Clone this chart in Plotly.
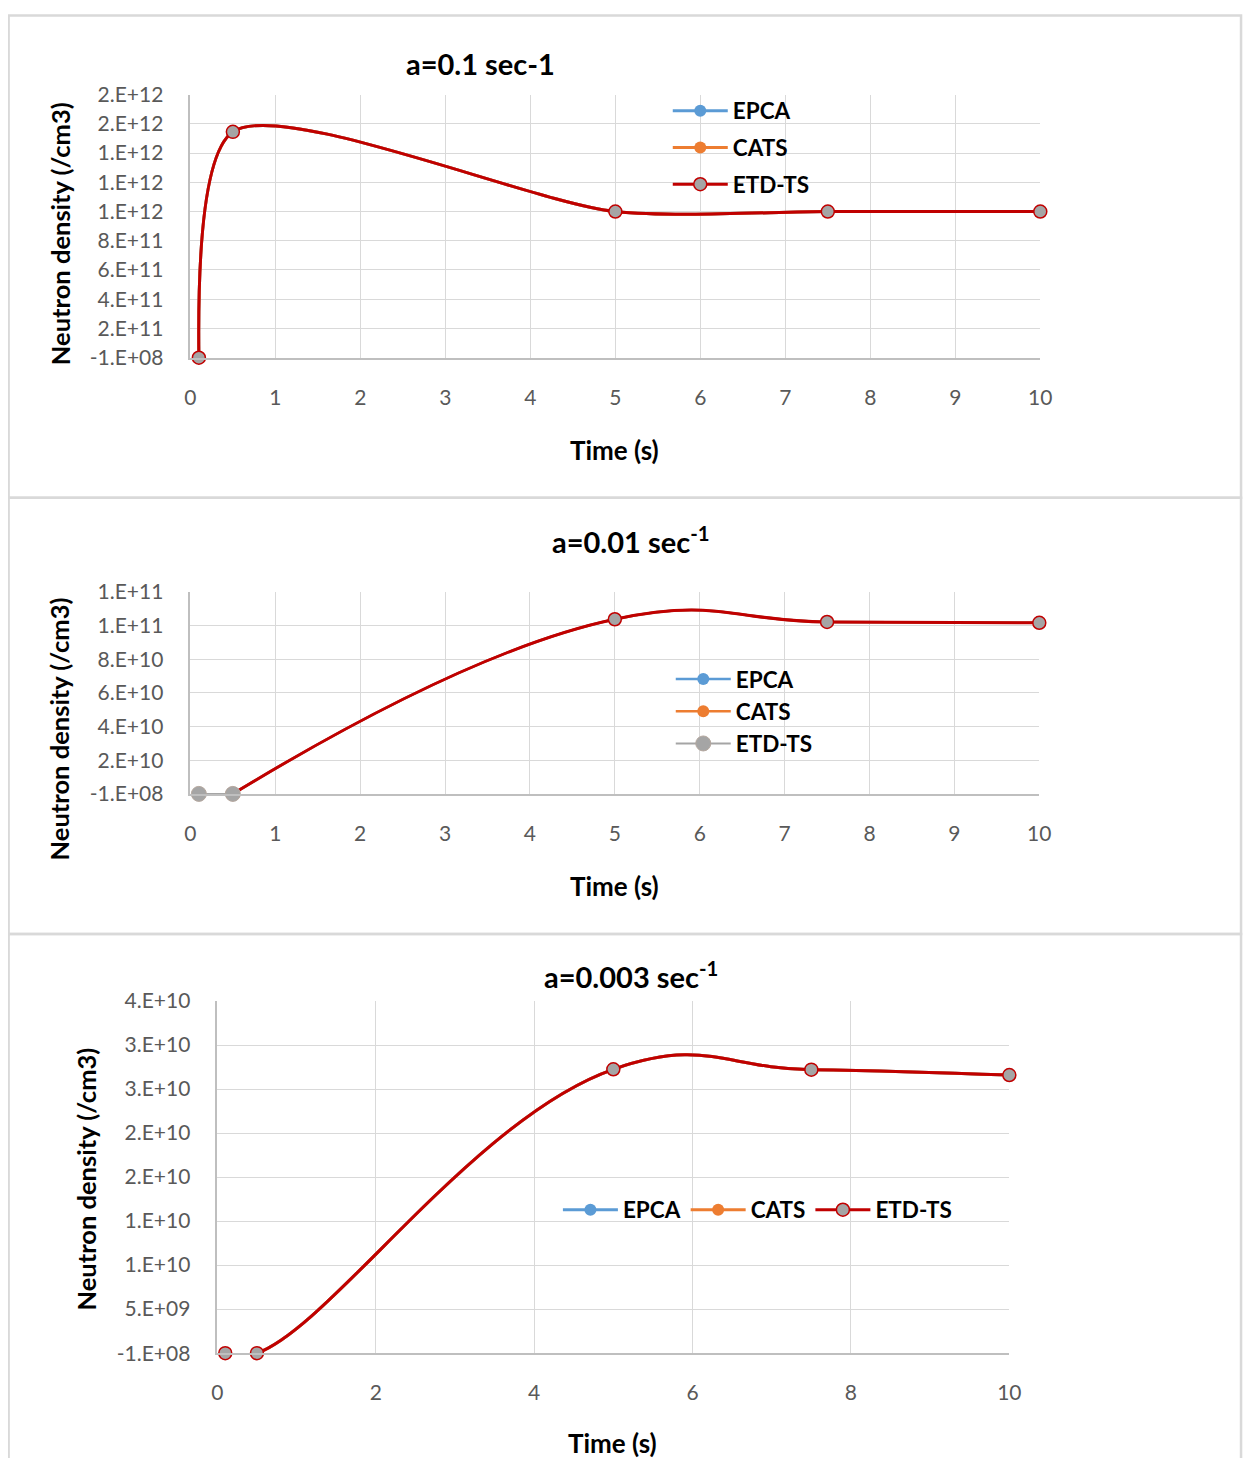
import plotly.graph_objects as go

# Figure size (the browser adds an 8px body margin)
BODY_M = 8
W, H = 1262, 1466

# The photographed picture maps page pixels as: img = off + scale * page.
# Layout positions below are given in picture pixels and converted here.
OFF_X, SC_X = 4.5, 0.987
OFF_Y, SC_Y = 13.6, 0.9825


def fx(p):
    return ((p - OFF_X) / SC_X - BODY_M) / W


def fy(p):
    return 1 - ((p - OFF_Y) / SC_Y - BODY_M) / H


# ---------------- data ----------------
time = [0.1, 0.5, 5, 7.5, 10]

p1_epca = [-1e8, 1.545e12, 1.0e12, 1.0e12, 1.0e12]
p1_cats = [-1e8, 1.545e12, 1.0e12, 1.0e12, 1.0e12]
p1_etd = [-1e8, 1.545e12, 1.0e12, 1.0e12, 1.0e12]

p2_epca = [-1e8, -1e8, 1.036e11, 1.02e11, 1.015e11]
p2_cats = [-1e8, -1e8, 1.036e11, 1.02e11, 1.015e11]
p2_etd = [-1e8, -1e8, 1.036e11, 1.02e11, 1.015e11]

p3_epca = [-1e8, -1e8, 3.214e10, 3.21e10, 3.149e10]
p3_cats = [-1e8, -1e8, 3.214e10, 3.21e10, 3.149e10]
p3_etd = [-1e8, -1e8, 3.214e10, 3.21e10, 3.149e10]

p1_yticklabels = ["-1.E+08", "2.E+11", "4.E+11", "6.E+11", "8.E+11",
                  "1.E+12", "1.E+12", "1.E+12", "2.E+12", "2.E+12"]
p2_yticklabels = ["-1.E+08", "2.E+10", "4.E+10", "6.E+10", "8.E+10",
                  "1.E+11", "1.E+11"]
p3_yticklabels = ["-1.E+08", "5.E+09", "1.E+10", "1.E+10", "2.E+10",
                  "2.E+10", "3.E+10", "3.E+10", "4.E+10"]

p1_title = "a=0.1 sec-1"
p2_title = "a=0.01 sec<sup>-1</sup>"
p3_title = "a=0.003 sec<sup>-1</sup>"
x_title = "Time (s)"
y_title = "Neutron density (/cm3)"

# ---------------- style ----------------
BLUE = "#5B9BD5"
ORANGE = "#ED7D31"
RED = "#C00000"
GRAY = "#A5A5A5"
GRID = "#D9D9D9"
AXIS = "#BFBFBF"
TICK = "#595959"
FONT = "Lato"

fig = go.Figure()


def add_line(x, y, name, color, xa, ya, legend, group, smoothing, width=3,
             mcolor=None, msize=12, mline=None, showlegend=True):
    fig.add_trace(go.Scatter(
        x=x, y=y, name=name, mode="lines+markers", cliponaxis=False,
        line=dict(color=color, width=width, shape="spline", smoothing=smoothing),
        marker=dict(color=mcolor or color, size=msize,
                    line=mline or dict(width=0)),
        xaxis=xa, yaxis=ya, legend=legend, legendgroup=group,
        showlegend=showlegend))


ETD_MLINE = dict(color=RED, width=1.5)

# Panel 1
S1 = 0.75
add_line(time, p1_epca, "EPCA", BLUE, "x", "y", "legend", "p1a", S1)
add_line(time, p1_cats, "CATS", ORANGE, "x", "y", "legend", "p1b", S1)
add_line(time, p1_etd, "ETD-TS", RED, "x", "y", "legend", "p1c", S1,
         mcolor=GRAY, msize=13, mline=ETD_MLINE)

# Panel 2
S2 = 1.3
add_line(time[1:], p2_epca[1:], "EPCA", BLUE, "x2", "y2", "legend2", "p2a", S2, width=2.5)
add_line(time[1:], p2_cats[1:], "CATS", ORANGE, "x2", "y2", "legend2", "p2b", S2, width=2.5)
add_line(time[1:], p2_etd[1:], "ETD-TS", RED, "x2", "y2", "legend2", "p2d", S2,
         mcolor=GRAY, msize=13, mline=ETD_MLINE, showlegend=False)
add_line(time[:2], p2_etd[:2], "ETD-TS", GRAY, "x2", "y2", "legend2", "p2c", S2,
         width=2, mcolor=GRAY, msize=15, mline=dict(color="#B5A89F", width=1))

# Panel 3
S3 = 1.3
add_line(time, p3_epca, "EPCA", BLUE, "x3", "y3", "legend3", "p3a", S3)
add_line(time, p3_cats, "CATS", ORANGE, "x3", "y3", "legend3", "p3b", S3)
add_line(time, p3_etd, "ETD-TS", RED, "x3", "y3", "legend3", "p3c", S3,
         mcolor=GRAY, msize=13, mline=ETD_MLINE)


def xaxis_cfg(x0, x1, dtick, anchor):
    return dict(domain=[fx(x0), fx(x1)], range=[0, 10], dtick=dtick, tick0=0,
                showgrid=True, gridcolor=GRID, gridwidth=1,
                showline=True, linecolor=AXIS, linewidth=1.5,
                zeroline=False, ticks="", anchor=anchor,
                tickfont=dict(family=FONT, size=21, color=TICK),
                ticklabelstandoff=20)


def yaxis_cfg(y_top, y_bot, start, step, labels, anchor):
    vals = [start + k * step for k in range(len(labels))]
    return dict(domain=[fy(y_bot), fy(y_top)], range=[vals[0], vals[-1]],
                tickvals=vals, ticktext=labels,
                showgrid=True, gridcolor=GRID, gridwidth=1,
                showline=True, linecolor=AXIS, linewidth=1.5,
                zeroline=False, ticks="", anchor=anchor,
                tickfont=dict(family=FONT, size=21, color=TICK),
                ticklabelstandoff=21)


annotations = []


def txt(text, x, y, size, angle=0):
    annotations.append(dict(text=text, x=fx(x), y=fy(y), xref="paper", yref="paper",
                            showarrow=False, textangle=angle, xanchor="center",
                            yanchor="middle",
                            font=dict(family=FONT, size=size, color="black", weight="bold")))


txt(p1_title, 479, 63, 29)
txt(p2_title, 630, 539, 29)
txt(p3_title, 630, 974, 29)
txt(x_title, 614, 449, 26)
txt(x_title, 614, 885, 26)
txt(x_title, 612, 1442, 26)
txt(y_title, 58, 233, 25.5, -90)
txt(y_title, 57, 728, 25.5, -90)
txt(y_title, 85, 1178, 25.5, -90)

# panel frames (kept inside the visible part of the page)
shapes = []
for top, bot in [(15, 497), (497, 933), (933, 1470)]:
    shapes.append(dict(type="rect", xref="paper", yref="paper",
                       x0=fx(7), x1=fx(1241), y0=fy(bot), y1=fy(top),
                       line=dict(color="#D9D9D9", width=2.5), layer="below"))

legend_font = dict(family=FONT, size=22.5, color="black", weight="bold")

fig.update_layout(
    width=W, height=H, autosize=False,
    margin=dict(l=0, r=0, t=0, b=0),
    paper_bgcolor="white", plot_bgcolor="white",
    xaxis=xaxis_cfg(189, 1040, 1, "y"),
    yaxis=yaxis_cfg(94, 357, -1e8, 2e11, p1_yticklabels, "x"),
    xaxis2=xaxis_cfg(189, 1039, 1, "y2"),
    yaxis2=yaxis_cfg(591, 793, -1e8, 2e10, p2_yticklabels, "x2"),
    xaxis3=xaxis_cfg(216, 1009, 2, "y3"),
    yaxis3=yaxis_cfg(1000, 1352, -1e8, 5e9, p3_yticklabels, "x3"),
    legend=dict(x=fx(667), y=fy(89), xanchor="left", yanchor="top",
                bgcolor="rgba(0,0,0,0)", font=legend_font, tracegroupgap=4.5,
                itemwidth=55),
    legend2=dict(x=fx(670), y=fy(657), xanchor="left", yanchor="top",
                 bgcolor="rgba(0,0,0,0)", font=legend_font, tracegroupgap=0,
                 itemwidth=55),
    legend3=dict(x=fx(557), y=fy(1209), xanchor="left", yanchor="middle",
                 orientation="h", bgcolor="rgba(0,0,0,0)", font=legend_font,
                 itemwidth=55),
    annotations=annotations,
    shapes=shapes,
    showlegend=True,
)

fig.write_html("out.html", config={"displayModeBar": False})
